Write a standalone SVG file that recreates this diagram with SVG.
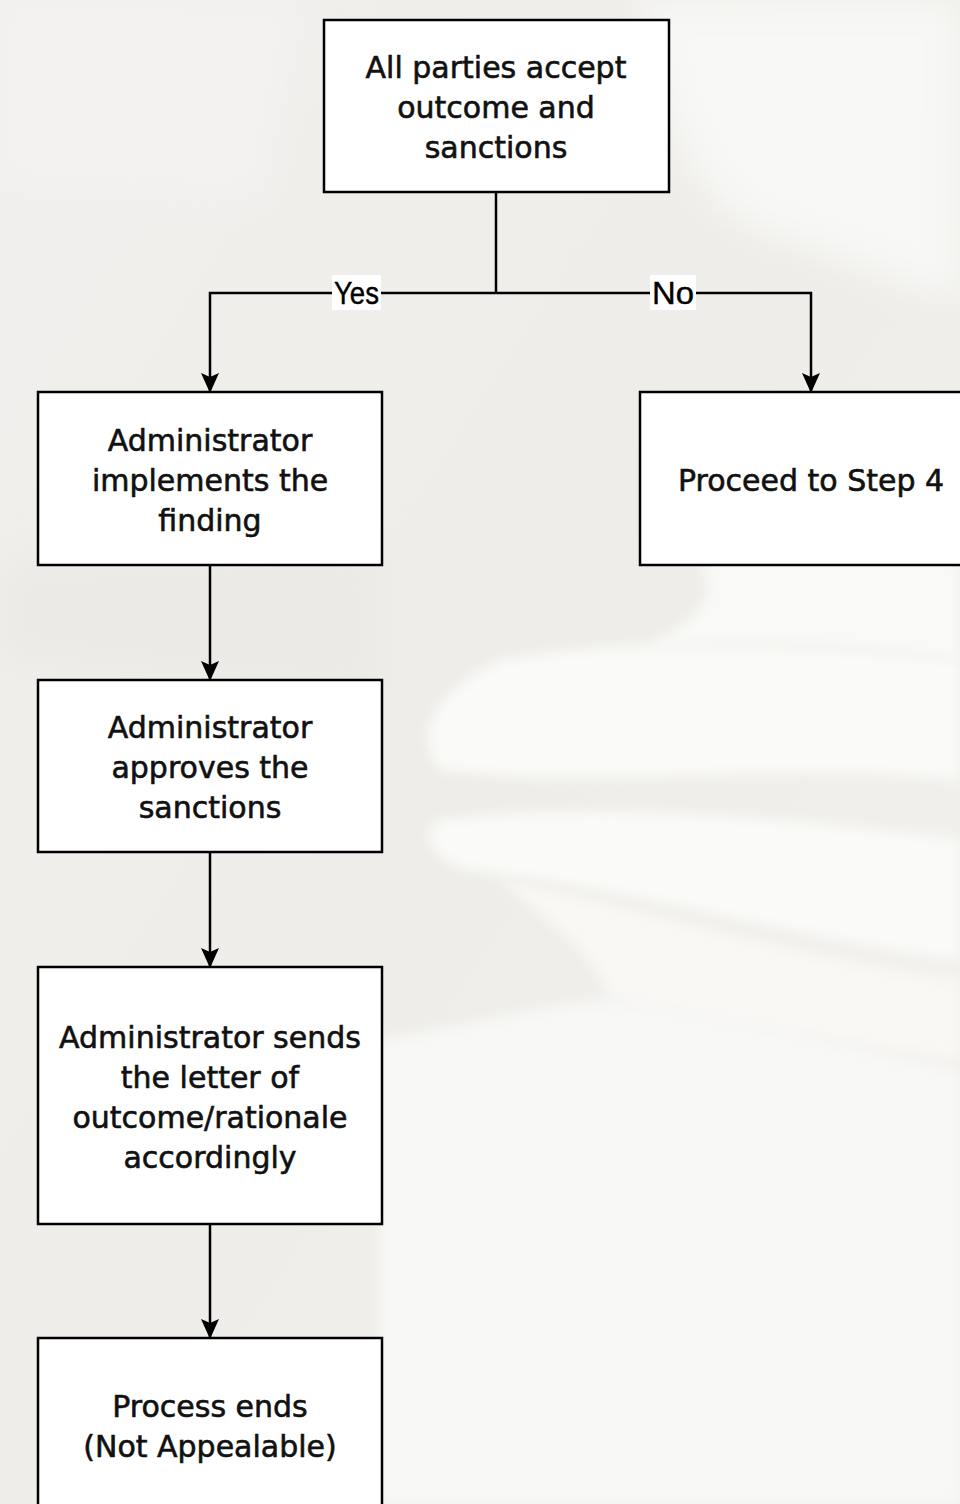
<svg xmlns="http://www.w3.org/2000/svg" width="960" height="1504" viewBox="0 0 960 1504">
<style>
.box{fill:#ffffff;stroke:#000000;stroke-width:2.5}
.t{font-family:"DejaVu Sans","Liberation Sans",sans-serif;font-size:30px;fill:#111111;stroke:#111111;stroke-width:0.6;text-anchor:middle}
.lbl{font-family:"Liberation Sans",Arial,sans-serif;font-size:31px;fill:#000000;stroke:#000000;stroke-width:0.4;text-anchor:middle}
.lblbg{fill:#ffffff}
.edge{fill:none;stroke:#000000;stroke-width:2.5}
</style>
<defs>
<marker id="arr" markerUnits="userSpaceOnUse" viewBox="0 -10 20 20" refX="19" refY="0" markerWidth="20" markerHeight="20" orient="auto">
<path d="M0,-9 L20,0 L0,9 L4,0 z" fill="#000000"/>
</marker>
<filter id="blur" x="-20%" y="-20%" width="140%" height="140%"><feGaussianBlur stdDeviation="18"/></filter>
<filter id="blur2" x="-20%" y="-20%" width="140%" height="140%"><feGaussianBlur stdDeviation="6"/></filter>
<linearGradient id="bg" x1="0" y1="0" x2="1" y2="1">
<stop offset="0" stop-color="#f1f0ee"/>
<stop offset="0.5" stop-color="#eeede9"/>
<stop offset="1" stop-color="#f3f2ef"/>
</linearGradient>
</defs>
<g id="background">
<rect x="0" y="0" width="960" height="1504" fill="url(#bg)"/>
<path d="M640,0 L960,0 L960,300 C900,280 820,250 760,230 C700,200 660,120 640,0 z" fill="#f8f8f6" filter="url(#blur)"/>
<path d="M0,0 L300,0 L260,200 L0,180 z" fill="#f3f2f0" filter="url(#blur)"/>
<path d="M0,560 L380,540 L380,700 L0,660 z" fill="#ebeae6" filter="url(#blur)"/>
<path d="M500,660 C620,640 760,640 960,660 L960,780 C800,760 600,790 440,770 C420,740 420,700 500,660 z" fill="#fafaf8" filter="url(#blur2)"/>
<path d="M440,820 C600,800 800,820 960,840 L960,960 C800,940 640,890 470,870 C430,860 420,830 440,820 z" fill="#fafaf8" filter="url(#blur2)"/>
<path d="M500,880 C620,900 800,960 960,980 L960,1060 C800,1040 650,1010 610,1000 C600,960 560,930 500,880 z" fill="#f9f8f5" filter="url(#blur2)"/>
<path d="M380,1040 C500,1020 560,1000 620,1000 C760,1020 860,1050 960,1070 L960,1504 L380,1504 z" fill="#f8f8f6" filter="url(#blur2)"/>
<path d="M700,560 L960,560 L960,660 C820,640 720,640 640,650 C700,620 720,600 700,560 z" fill="#f9f9f7" filter="url(#blur2)"/>
</g>
<g id="connectors">
<path class="edge" d="M496,192 L496,293"/>
<path class="edge" d="M496,293 L210,293 L210,392" marker-end="url(#arr)"/>
<path class="edge" d="M496,293 L811,293 L811,392" marker-end="url(#arr)"/>
<path class="edge" d="M210,565 L210,680" marker-end="url(#arr)"/>
<path class="edge" d="M210,852 L210,967" marker-end="url(#arr)"/>
<path class="edge" d="M210,1224 L210,1338" marker-end="url(#arr)"/>
<g id="label-yes">
<rect class="lblbg" x="332" y="275" width="49" height="35"/>
<text class="lbl" x="356.5" y="304" textLength="45" lengthAdjust="spacingAndGlyphs">Yes</text>
</g>
<g id="label-no">
<rect class="lblbg" x="650" y="275" width="46" height="35"/>
<text class="lbl" x="673" y="304" textLength="42" lengthAdjust="spacingAndGlyphs">No</text>
</g>
</g>
<g id="node-accept">
<rect class="box" x="324" y="20" width="345" height="172"/>
<text class="t" x="496" y="78">All parties accept</text>
<text class="t" x="496" y="118">outcome and</text>
<text class="t" x="496" y="158">sanctions</text>
</g>
<g id="node-implements">
<rect class="box" x="38" y="392" width="344" height="173"/>
<text class="t" x="210" y="451">Administrator</text>
<text class="t" x="210" y="491">implements the</text>
<text class="t" x="210" y="531">finding</text>
</g>
<g id="node-step4">
<rect class="box" x="640" y="392" width="344" height="173"/>
<text class="t" x="811" y="491">Proceed to Step 4</text>
</g>
<g id="node-approves">
<rect class="box" x="38" y="680" width="344" height="172"/>
<text class="t" x="210" y="738">Administrator</text>
<text class="t" x="210" y="778">approves the</text>
<text class="t" x="210" y="818">sanctions</text>
</g>
<g id="node-letter">
<rect class="box" x="38" y="967" width="344" height="257"/>
<text class="t" x="210" y="1048">Administrator sends</text>
<text class="t" x="210" y="1088">the letter of</text>
<text class="t" x="210" y="1128">outcome/rationale</text>
<text class="t" x="210" y="1168">accordingly</text>
</g>
<g id="node-end">
<rect class="box" x="38" y="1338" width="344" height="200"/>
<text class="t" x="210" y="1417">Process ends</text>
<text class="t" x="210" y="1457">(Not Appealable)</text>
</g>
</svg>
